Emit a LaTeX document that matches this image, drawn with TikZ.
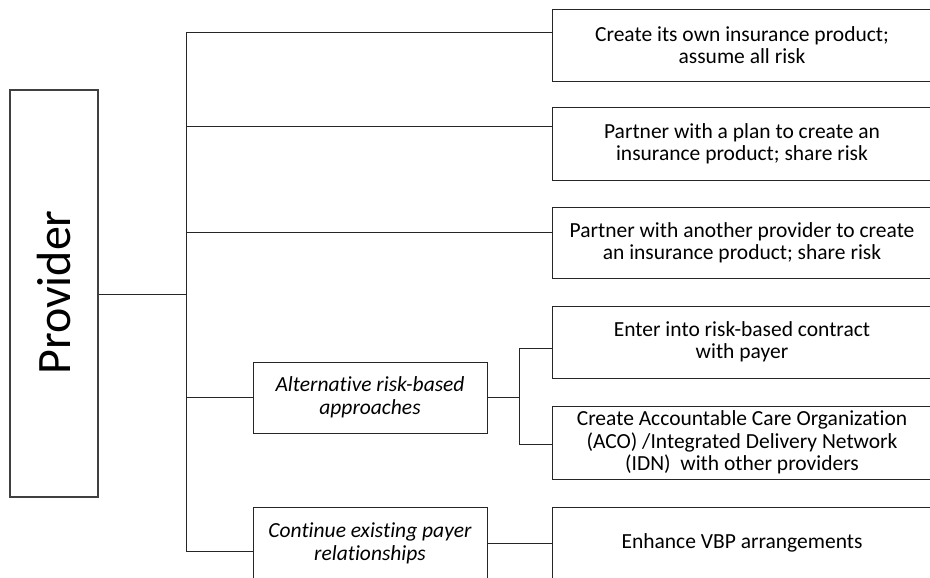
\documentclass[tikz,border=0pt]{standalone}
\usepackage{fontspec}
\setmainfont{Carlito}[Ligatures=NoCommon]
\usetikzlibrary{positioning}
\begin{document}
\begin{tikzpicture}[x=1pt,y=-1pt,
  box/.style={draw=black!85, line width=0.9pt, rectangle, inner sep=0pt,
    align=center, font=\fontsize{21.5}{22.3}\selectfont},
  optbox/.style={box, minimum width=380pt, minimum height=72pt},
  midbox/.style={box, minimum width=234pt, minimum height=71pt,
    font=\fontsize{21.5}{22.8}\selectfont\itshape},
  link/.style={draw=black!85, line width=0.8pt}]
\useasboundingbox (0,0) rectangle (930,578);

% root
\node[draw=black!75, line width=1.2pt, minimum width=88pt, minimum height=407pt,
  inner sep=0pt] (prov) at (54,293.5) {};
\node[rotate=90, font=\fontsize{48}{52}\selectfont] (provtxt) at (54,292.5) {Provider};

% intermediate groupings
\node[midbox] (alt) at (370,397.5) {Alternative risk-based\\approaches};
\node[midbox, minimum height=72pt] (cont) at (370,543) {Continue existing payer\\relationships};

% options
\node[optbox] (o1) at (742,45) {Create its own insurance product;\\assume all risk};
\node[optbox, minimum height=73pt] (o2) at (742,143.5) {Partner with a plan to create an\\insurance product; share risk};
\node[optbox, minimum height=71pt] (o3) at (742,242.5) {Partner with another provider to create\\an insurance product; share risk};
\node[optbox] (o4) at (742,342) {Enter into risk-based contract\\with payer};
\node[optbox, minimum height=73pt] (o5) at (742,442.5) {Create Accountable Care Organization\\(ACO) /Integrated Delivery Network\\(IDN)\ \ with other providers};
\node[optbox] (o6) at (742,543) {Enhance VBP arrangements};

% trunk points
\coordinate (tmid) at (186,294);
\coordinate (t1) at (186,32);
\coordinate (t2) at (186,126);
\coordinate (t3) at (186,232);
\coordinate (t4) at (186,397.5);
\coordinate (t5) at (186,551);
\coordinate (s1) at (519,348);
\coordinate (s2) at (519,444);

% connectors
\draw[link] (prov.east |- tmid) -- (tmid);
\draw[link] (t1) -- (t5);
\draw[link] (t1) -- (t1 -| o1.west);
\draw[link] (t2) -- (t2 -| o2.west);
\draw[link] (t3) -- (t3 -| o3.west);
\draw[link] (t4) -- (alt.west);
\draw[link] (t5) -- (t5 -| cont.west);
\draw[link] (alt.east) -- (alt.east -| s1);
\draw[link] (s1) -- (s2);
\draw[link] (s1) -- (s1 -| o4.west);
\draw[link] (s2) -- (s2 -| o5.west);
\draw[link] (cont.east) -- (o6.west);
\end{tikzpicture}
\end{document}
